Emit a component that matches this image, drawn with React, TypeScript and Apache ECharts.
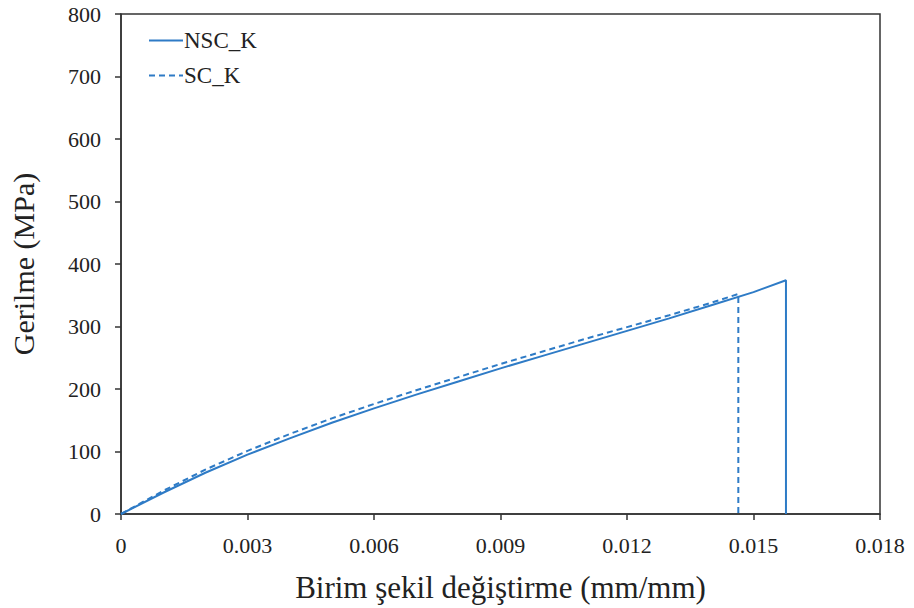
import React, { useEffect, useRef } from "react";
import * as echarts from "echarts";

const nscStrain = [0, 0.001, 0.002, 0.003, 0.004, 0.005, 0.006, 0.007, 0.008, 0.009, 0.010, 0.011, 0.012, 0.013, 0.014, 0.015, 0.01577, 0.01577];
const nscStress = [0, 34, 66, 95, 121, 146, 169, 191, 212, 233, 253, 273, 293, 313, 334, 355, 374, 0];
const scStrain = [0, 0.001, 0.002, 0.003, 0.004, 0.005, 0.006, 0.007, 0.008, 0.009, 0.010, 0.011, 0.012, 0.013, 0.014, 0.01464, 0.01464];
const scStress = [0, 37, 71, 101, 128, 153, 176, 198, 219, 240, 260, 280, 299, 318, 338, 352, 0];
const xTicks = ["0", "0.003", "0.006", "0.009", "0.012", "0.015", "0.018"];
const seriesNames = ["NSC_K", "SC_K"];

const FONT = "Liberation Serif";
const COLOR = "#2E7BC6";

export default function App() {
  const ref = useRef<HTMLDivElement>(null);
  useEffect(() => {
    if (!ref.current) return;
    const chart = echarts.init(ref.current, null, { renderer: "svg" });
    chart.setOption({
      animation: false,
      backgroundColor: "#fff",
      textStyle: { fontFamily: FONT },
      grid: { left: 119, right: 34, top: 14, bottom: 93, show: true, borderColor: "#333", borderWidth: 1.5 },
      legend: {
        orient: "vertical",
        left: 143,
        top: 24,
        itemWidth: 34,
        itemHeight: 10,
        itemGap: 12,
        itemStyle: { opacity: 0 },
        textStyle: { fontFamily: FONT, fontSize: 23, color: "#222", padding: [0, 0, 0, -4] },
        data: seriesNames,
      },
      xAxis: {
        type: "value",
        min: 0,
        max: 0.018,
        interval: 0.003,
        name: "Birim şekil değiştirme (mm/mm)",
        nameLocation: "middle",
        nameGap: 58,
        nameTextStyle: { fontFamily: FONT, fontSize: 31, color: "#222" },
        axisLine: { show: true, lineStyle: { color: "#333", width: 1.5 } },
        axisTick: { show: true, inside: false, length: 6, lineStyle: { color: "#333", width: 1.5 } },
        axisLabel: {
          fontFamily: FONT,
          fontSize: 22,
          color: "#222",
          margin: 20,
          formatter: (v: number) => xTicks[Math.round(v / 0.003)] ?? "",
        },
        splitLine: { show: false },
      },
      yAxis: {
        type: "value",
        min: 0,
        max: 800,
        interval: 100,
        name: "Gerilme (MPa)",
        nameLocation: "middle",
        nameGap: 83,
        nameTextStyle: { fontFamily: FONT, fontSize: 30, color: "#222" },
        axisLine: { show: true, lineStyle: { color: "#333", width: 1.5 } },
        axisTick: { show: true, inside: false, length: 6, lineStyle: { color: "#333", width: 1.5 } },
        axisLabel: { fontFamily: FONT, fontSize: 22, color: "#222", margin: 20 },
        splitLine: { show: false },
      },
      series: [
        {
          name: seriesNames[0],
          type: "line",
          symbol: "none",
          color: COLOR,
          lineStyle: { color: COLOR, width: 2 },
          data: nscStrain.map((x, i) => [x, nscStress[i]]),
        },
        {
          name: seriesNames[1],
          type: "line",
          symbol: "none",
          color: COLOR,
          lineStyle: { color: COLOR, width: 2, type: [6, 4] },
          data: scStrain.map((x, i) => [x, scStress[i]]),
        },
      ],
    });
    return () => chart.dispose();
  }, []);
  return <div ref={ref} style={{ width: 914, height: 608, position: "absolute", left: 0, top: 0 }} />;
}
